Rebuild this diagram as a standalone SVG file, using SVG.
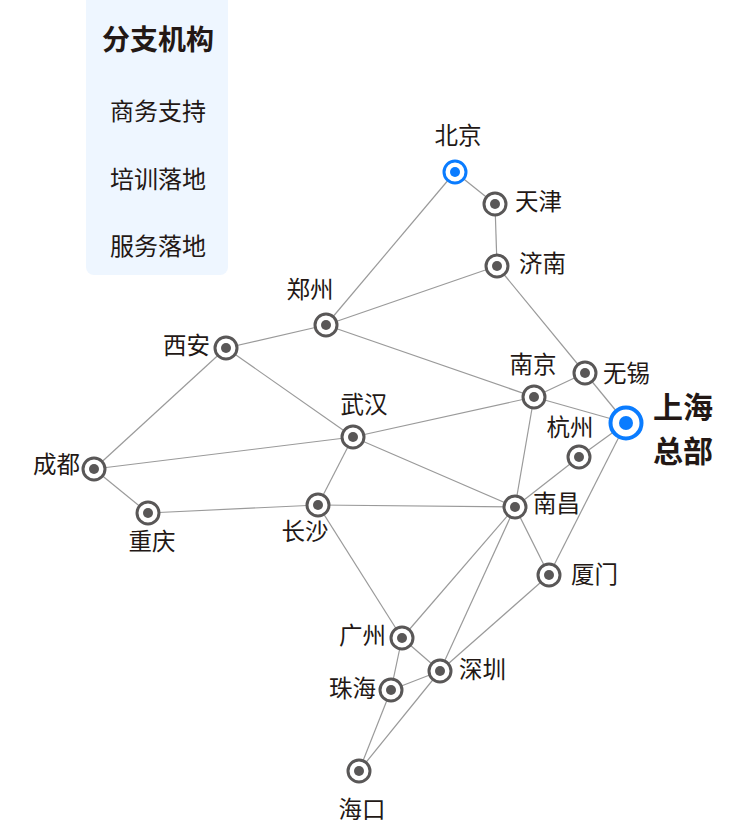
<svg xmlns="http://www.w3.org/2000/svg" width="750" height="824" viewBox="0 0 750 824">
<style>
.e{stroke:#9a9a9a;stroke-width:1.2;fill:none}
.o{fill:#fff;stroke:#595757;stroke-width:3}
.i{fill:#595757}
.ob{fill:#fff;stroke:#0a7cff;stroke-width:3}
.ib{fill:#0a7cff}
.t{font-family:"Noto Sans CJK SC","Noto Sans",sans-serif;font-size:23.5px;fill:#231815;dominant-baseline:central}
.b{font-weight:bold}
.l{font-size:24px}
</style>
<rect x="86" y="-8" width="142" height="283" rx="8" fill="#eef6ff"/>
<g id="legend">
<text class="t b" x="158" y="38" text-anchor="middle" style="font-size:28px">分支机构</text>
<text class="t l" x="158" y="109" text-anchor="middle">商务支持</text>
<text class="t l" x="158" y="177" text-anchor="middle">培训落地</text>
<text class="t l" x="158" y="244" text-anchor="middle">服务落地</text>
</g>
<g id="connectors">
<line class="e" x1="455" y1="172" x2="495" y2="204"/>
<line class="e" x1="455" y1="172" x2="326" y2="325"/>
<line class="e" x1="495" y1="204" x2="497" y2="266"/>
<line class="e" x1="497" y1="266" x2="326" y2="325"/>
<line class="e" x1="497" y1="266" x2="585" y2="373"/>
<line class="e" x1="326" y1="325" x2="226" y2="348"/>
<line class="e" x1="326" y1="325" x2="534" y2="397"/>
<line class="e" x1="226" y1="348" x2="353" y2="437"/>
<line class="e" x1="226" y1="348" x2="94" y2="469"/>
<line class="e" x1="94" y1="469" x2="353" y2="437"/>
<line class="e" x1="94" y1="469" x2="148" y2="513"/>
<line class="e" x1="148" y1="513" x2="318" y2="505"/>
<line class="e" x1="353" y1="437" x2="318" y2="505"/>
<line class="e" x1="353" y1="437" x2="534" y2="397"/>
<line class="e" x1="353" y1="437" x2="515" y2="507"/>
<line class="e" x1="318" y1="505" x2="515" y2="507"/>
<line class="e" x1="318" y1="505" x2="402" y2="638"/>
<line class="e" x1="534" y1="397" x2="585" y2="373"/>
<line class="e" x1="534" y1="397" x2="626" y2="423"/>
<line class="e" x1="534" y1="397" x2="515" y2="507"/>
<line class="e" x1="585" y1="373" x2="626" y2="423"/>
<line class="e" x1="626" y1="423" x2="579" y2="457"/>
<line class="e" x1="626" y1="423" x2="549" y2="575"/>
<line class="e" x1="579" y1="457" x2="515" y2="507"/>
<line class="e" x1="515" y1="507" x2="549" y2="575"/>
<line class="e" x1="515" y1="507" x2="402" y2="638"/>
<line class="e" x1="515" y1="507" x2="440" y2="671"/>
<line class="e" x1="549" y1="575" x2="440" y2="671"/>
<line class="e" x1="402" y1="638" x2="440" y2="671"/>
<line class="e" x1="402" y1="638" x2="391" y2="690"/>
<line class="e" x1="391" y1="690" x2="440" y2="671"/>
<line class="e" x1="391" y1="690" x2="359" y2="771"/>
<line class="e" x1="440" y1="671" x2="359" y2="771"/>
</g>
<g id="beijing"><circle class="ob" cx="455" cy="172" r="11"/><circle class="ib" cx="455" cy="172" r="5"/><text class="t" x="458" y="134" text-anchor="middle">北京</text></g>
<g id="tianjin"><circle class="o" cx="495" cy="204" r="11"/><circle class="i" cx="495" cy="204" r="5"/><text class="t" x="515" y="200">天津</text></g>
<g id="jinan"><circle class="o" cx="497" cy="266" r="11"/><circle class="i" cx="497" cy="266" r="5"/><text class="t" x="519" y="262">济南</text></g>
<g id="zhengzhou"><circle class="o" cx="326" cy="325" r="11"/><circle class="i" cx="326" cy="325" r="5"/><text class="t" x="310" y="288" text-anchor="middle">郑州</text></g>
<g id="xian"><circle class="o" cx="226" cy="348" r="11"/><circle class="i" cx="226" cy="348" r="5"/><text class="t" x="210" y="344" text-anchor="end">西安</text></g>
<g id="nanjing"><circle class="o" cx="534" cy="397" r="11"/><circle class="i" cx="534" cy="397" r="5"/><text class="t" x="533" y="363" text-anchor="middle">南京</text></g>
<g id="wuxi"><circle class="o" cx="585" cy="373" r="11"/><circle class="i" cx="585" cy="373" r="5"/><text class="t" x="603" y="372">无锡</text></g>
<g id="shanghai"><circle class="ob" cx="626" cy="423" r="15.5" style="stroke-width:4"/><circle class="ib" cx="626" cy="423" r="7"/><text class="t b" x="653" y="405" style="font-size:30px">上海</text><text class="t b" x="653" y="449" style="font-size:30px">总部</text></g>
<g id="hangzhou"><circle class="o" cx="579" cy="457" r="11"/><circle class="i" cx="579" cy="457" r="5"/><text class="t" x="570" y="426" text-anchor="middle">杭州</text></g>
<g id="wuhan"><circle class="o" cx="353" cy="437" r="11"/><circle class="i" cx="353" cy="437" r="5"/><text class="t" x="364" y="403" text-anchor="middle">武汉</text></g>
<g id="chengdu"><circle class="o" cx="94" cy="469" r="11"/><circle class="i" cx="94" cy="469" r="5"/><text class="t" x="80" y="463" text-anchor="end">成都</text></g>
<g id="chongqing"><circle class="o" cx="148" cy="513" r="11"/><circle class="i" cx="148" cy="513" r="5"/><text class="t" x="152" y="540" text-anchor="middle">重庆</text></g>
<g id="changsha"><circle class="o" cx="318" cy="505" r="11"/><circle class="i" cx="318" cy="505" r="5"/><text class="t" x="305" y="530" text-anchor="middle">长沙</text></g>
<g id="nanchang"><circle class="o" cx="515" cy="507" r="11"/><circle class="i" cx="515" cy="507" r="5"/><text class="t" x="533" y="502">南昌</text></g>
<g id="xiamen"><circle class="o" cx="549" cy="575" r="11"/><circle class="i" cx="549" cy="575" r="5"/><text class="t" x="571" y="573">厦门</text></g>
<g id="guangzhou"><circle class="o" cx="402" cy="638" r="11"/><circle class="i" cx="402" cy="638" r="5"/><text class="t" x="386" y="634" text-anchor="end">广州</text></g>
<g id="shenzhen"><circle class="o" cx="440" cy="671" r="11"/><circle class="i" cx="440" cy="671" r="5"/><text class="t" x="459" y="668">深圳</text></g>
<g id="zhuhai"><circle class="o" cx="391" cy="690" r="11"/><circle class="i" cx="391" cy="690" r="5"/><text class="t" x="376" y="687" text-anchor="end">珠海</text></g>
<g id="haikou"><circle class="o" cx="359" cy="771" r="11"/><circle class="i" cx="359" cy="771" r="5"/><text class="t" x="362" y="808" text-anchor="middle">海口</text></g>
</svg>
